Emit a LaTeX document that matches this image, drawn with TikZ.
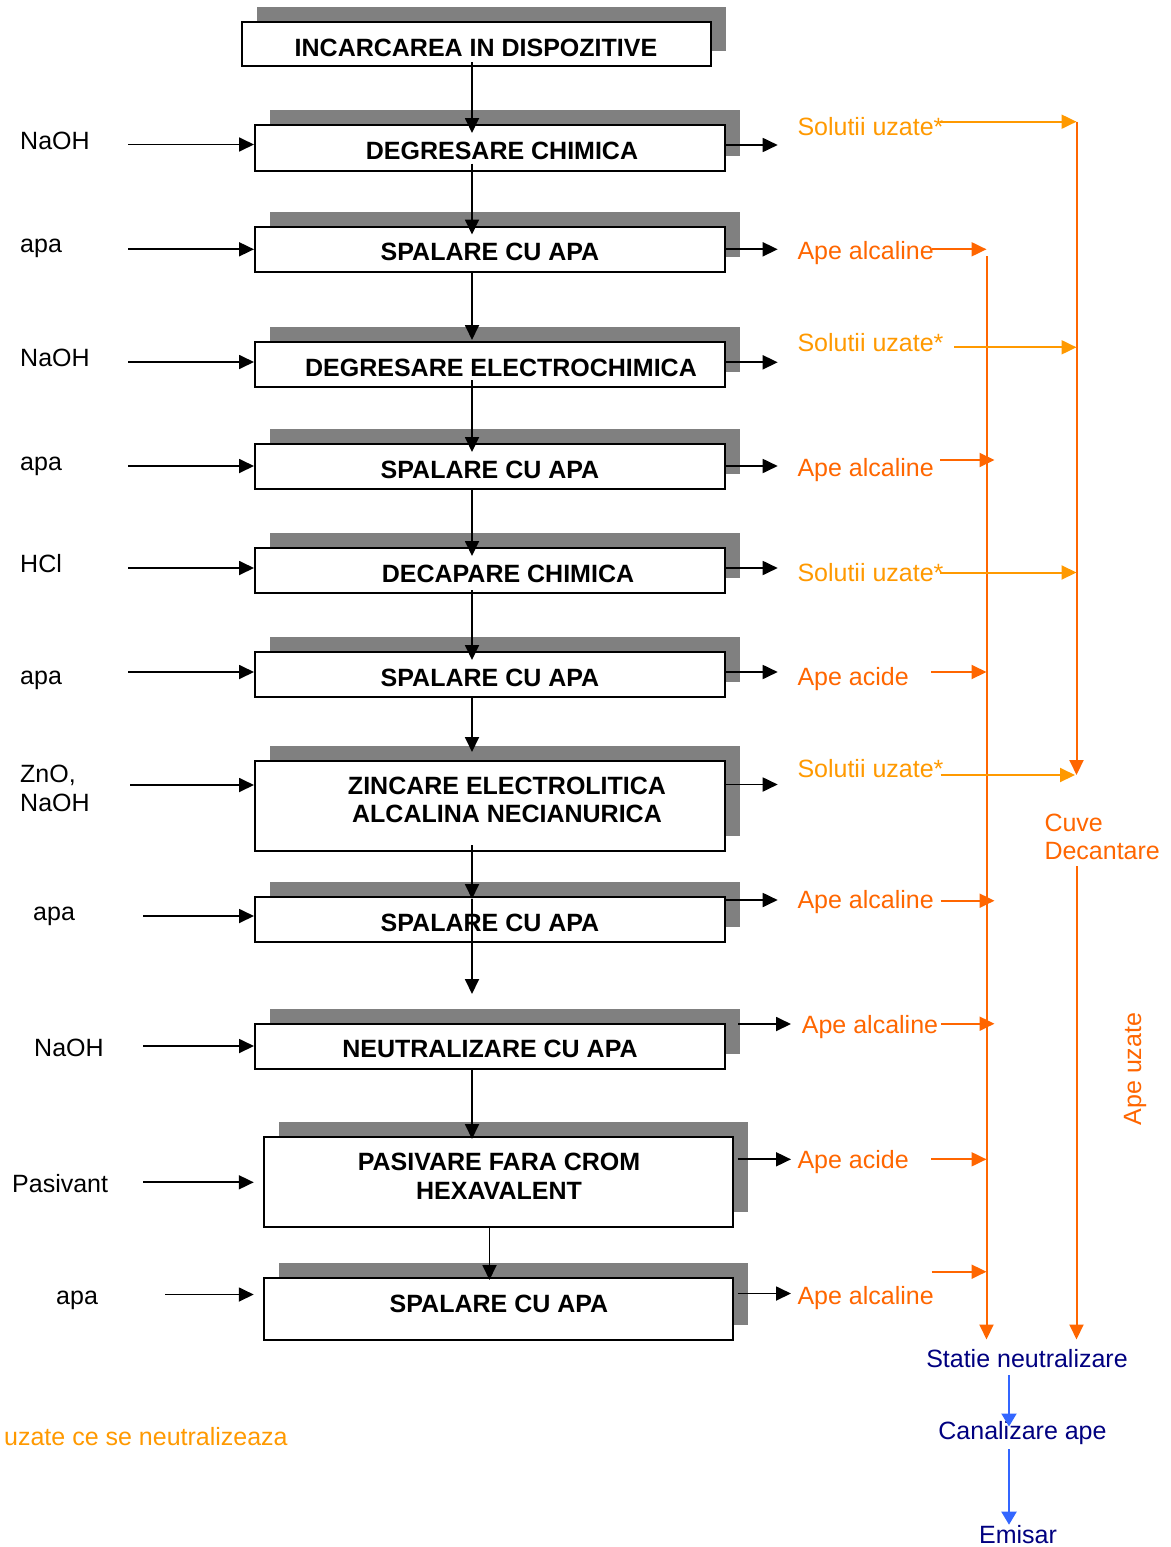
\documentclass[tikz,border=0pt]{standalone}
\usepackage{fontspec}
\setmainfont{Liberation Sans}
\usetikzlibrary{arrows.meta,shadows}
\definecolor{shadowgray}{HTML}{808080}
\definecolor{lorange}{HTML}{FF9900}
\definecolor{dorange}{HTML}{FF6600}
\definecolor{navytxt}{HTML}{000080}
\definecolor{bluearr}{HTML}{3366FF}
\newcommand{\fsz}{\fontsize{25}{28.75}\selectfont}
\begin{document}
\begin{tikzpicture}[x=1pt,y=-1pt,
  pbox/.style={draw=black, line width=2pt, fill=white, inner sep=0pt, minimum width=469.5pt,
     drop shadow={shadow xshift=15pt, shadow yshift=15pt, fill=shadowgray, opacity=1}},
  btxt/.style={inner sep=0pt, font=\fsz\bfseries},
  lbl/.style={inner sep=0pt, font=\fsz},
  arr/.style={line width=1.8pt, -{Triangle[length=15pt,width=14pt]}},
  oarr/.style={line width=2pt, -{Triangle[length=15pt,width=14pt]}},
  sarr/.style={oarr, draw=lorange},
  aarr/.style={oarr, draw=dorange},
  barr/.style={line width=2pt, draw=bluearr, -{Triangle[length=13pt,width=15pt]}},
]
\useasboundingbox (0,0) rectangle (1170,1547);
\fill[white] (0,0) rectangle (1170,1547);

% ---------- process boxes ----------
\node[pbox, minimum height=44pt]   (b1)  at (476.25,44)    {};
\node[pbox, minimum height=45.5pt] (b2)  at (489.75,147.75) {};
\node[pbox, minimum height=45pt]   (b3)  at (489.75,249)   {};
\node[pbox, minimum height=45pt]   (b4)  at (489.75,364.5) {};
\node[pbox, minimum height=45pt]   (b5)  at (489.75,466.5) {};
\node[pbox, minimum height=45pt]   (b6)  at (489.75,570.5) {};
\node[pbox, minimum height=45pt]   (b7)  at (489.75,674.5) {};
\node[pbox, minimum height=90pt]   (b8)  at (489.75,806)   {};
\node[pbox, minimum height=45pt]   (b9)  at (489.75,919.5) {};
\node[pbox, minimum height=45.5pt] (b10) at (489.75,1046.25) {};
\node[pbox, minimum height=90pt]   (b11) at (498.5,1182)   {};
\node[pbox, minimum height=61.5pt] (b12) at (498.5,1308.75) {};

\node[btxt, anchor=base] (t1)  at (476,56.5)  {INCARCAREA IN DISPOZITIVE};
\node[btxt, anchor=base] (t2)  at (502,159)   {DEGRESARE CHIMICA};
\node[btxt, anchor=base] (t3)  at (490,260.5) {SPALARE CU APA};
\node[btxt, anchor=base] (t4)  at (501,376)   {DEGRESARE ELECTROCHIMICA};
\node[btxt, anchor=base] (t5)  at (490,478)   {SPALARE CU APA};
\node[btxt, anchor=base] (t6)  at (508,582)   {DECAPARE CHIMICA};
\node[btxt, anchor=base] (t7)  at (490,686)   {SPALARE CU APA};
\node[btxt, anchor=north, align=center] (t8) at (507,776.5) {ZINCARE ELECTROLITICA\\ALCALINA NECIANURICA};
\node[btxt, anchor=base] (t9)  at (490,931)   {SPALARE CU APA};
\node[btxt, anchor=base] (t10) at (490,1057.5) {NEUTRALIZARE CU APA};
\node[btxt, anchor=north, align=center] (t11) at (499,1153.3) {PASIVARE FARA CROM\\HEXAVALENT};
\node[btxt, anchor=base] (t12) at (499,1312.5) {SPALARE CU APA};

% ---------- main flow ----------
\coordinate (mx) at (472,0);
\coordinate (mx2) at (489.5,0);
\coordinate (fe9) at (472,994);
\draw[arr] ([yshift=5pt]b1.south -| mx) -- ([yshift=-9pt]b2.north -| mx);
\draw[arr] ([yshift=8pt]b2.south -| mx) -- ([yshift=-9pt]b3.north -| mx);
\draw[arr] (b3.south -| mx) -- ([yshift=1pt]b4.north -| mx);
\draw[arr] ([yshift=8pt]b4.south -| mx) -- ([yshift=-9pt]b5.north -| mx);
\draw[arr] (b5.south -| mx) -- ([yshift=-9pt]b6.north -| mx);
\draw[arr] ([yshift=4pt]b6.south -| mx) -- ([yshift=-9pt]b7.north -| mx);
\draw[arr] (b7.south -| mx) -- ([yshift=8pt]b8.north -| mx);
\draw[arr] ([yshift=7pt]b8.south -| mx) -- ([yshift=-3pt]b9.north -| mx);
\draw[arr] ([yshift=-3pt]b9.north -| mx) -- (fe9);
\draw[arr] (b10.south -| mx) -- ([yshift=-3pt]b11.north -| mx);
\draw[arr] (b11.south -| mx2) -- ([yshift=-3pt]b12.north -| mx2);

% ---------- inputs ----------
\node[lbl, anchor=base west] (i2)  at (20,149.3)  {NaOH};
\node[lbl, anchor=base west] (i3)  at (20,252.7)  {apa};
\node[lbl, anchor=base west] (i4)  at (20,366.5)  {NaOH};
\node[lbl, anchor=base west] (i5)  at (20,470)    {apa};
\node[lbl, anchor=base west] (i6)  at (20,572.5)  {HCl};
\node[lbl, anchor=base west] (i7)  at (20,684.5)  {apa};
\node[lbl, anchor=north west, align=left] (i8) at (20,764.7) {ZnO,\\NaOH};
\node[lbl, anchor=base west] (i9)  at (33,920.7)  {apa};
\node[lbl, anchor=base west] (i10) at (34,1056)   {NaOH};
\node[lbl, anchor=base west] (i11) at (12,1192.7) {Pasivant};
\node[lbl, anchor=base west] (i12) at (56,1304)   {apa};

\coordinate (s2)  at (128,144.5);
\coordinate (s3)  at (128,249.3);
\coordinate (s4)  at (128,362);
\coordinate (s5)  at (128,466);
\coordinate (s6)  at (128,568);
\coordinate (s7)  at (128,672);
\coordinate (s8)  at (130,785);
\coordinate (s9)  at (143,916);
\coordinate (s10) at (143,1046);
\coordinate (s11) at (143,1182.3);
\coordinate (s12) at (165,1294.5);
\coordinate (w11) at ([xshift=-9pt]b11.west);
\coordinate (w12) at ([xshift=-9pt]b12.west);
\draw[arr] (s2) -- (s2 -| b2.west);
\draw[arr] (s3) -- (s3 -| b3.west);
\draw[arr] (s4) -- (s4 -| b4.west);
\draw[arr] (s5) -- (s5 -| b5.west);
\draw[arr] (s6) -- (s6 -| b6.west);
\draw[arr] (s7) -- (s7 -| b7.west);
\draw[arr] (s8) -- (s8 -| b8.west);
\draw[arr] (s9) -- (s9 -| b9.west);
\draw[arr] (s10) -- (s10 -| b10.west);
\draw[arr] (s11) -- (s11 -| w11);
\draw[arr] (s12) -- (s12 -| w12);

% ---------- outputs ----------
\coordinate (o2)  at (777.7,145);
\coordinate (o3)  at (777.7,249.3);
\coordinate (o4)  at (777.7,362.3);
\coordinate (o5)  at (777.7,466);
\coordinate (o6)  at (777.7,568);
\coordinate (o7)  at (777.7,672);
\coordinate (o8)  at (777.7,784.5);
\coordinate (o9)  at (777.7,900);
\coordinate (o10) at (791,1024);
\coordinate (o11) at (791,1159.3);
\coordinate (o12) at (791,1293.5);
\coordinate (e10) at ([xshift=12.5pt]b10.east);
\coordinate (e11) at ([xshift=3.5pt]b11.east);
\coordinate (e12) at ([xshift=3.5pt]b12.east);
\draw[arr] (o2 -| b2.east) -- (o2);
\draw[arr] (o3 -| b3.east) -- (o3);
\draw[arr] (o4 -| b4.east) -- (o4);
\draw[arr] (o5 -| b5.east) -- (o5);
\draw[arr] (o6 -| b6.east) -- (o6);
\draw[arr] (o7 -| b7.east) -- (o7);
\draw[arr] (o8 -| b8.east) -- (o8);
\draw[arr] (o9 -| b9.east) -- (o9);
\draw[arr] (o10 -| e10) -- (o10);
\draw[arr] (o11 -| e11) -- (o11);
\draw[arr] (o12 -| e12) -- (o12);

% ---------- effluent labels ----------
\node[lbl, text=lorange, anchor=base west] (r2)  at (797.3,135)    {Solutii uzate*};
\node[lbl, text=dorange, anchor=base west] (r3)  at (797.3,259.5)  {Ape alcaline};
\node[lbl, text=lorange, anchor=base west] (r4)  at (797.3,351.7)  {Solutii uzate*};
\node[lbl, text=dorange, anchor=base west] (r5)  at (797.3,476.5)  {Ape alcaline};
\node[lbl, text=lorange, anchor=base west] (r6)  at (797.3,581)    {Solutii uzate*};
\node[lbl, text=dorange, anchor=base west] (r7)  at (797.3,685.5)  {Ape acide};
\node[lbl, text=lorange, anchor=base west] (r8)  at (797.3,777.3)  {Solutii uzate*};
\node[lbl, text=dorange, anchor=base west] (r9)  at (797.3,908.3)  {Ape alcaline};
\node[lbl, text=dorange, anchor=base west] (r10) at (801.7,1033.3) {Ape alcaline};
\node[lbl, text=dorange, anchor=base west] (r11) at (797.3,1168.3) {Ape acide};
\node[lbl, text=dorange, anchor=base west] (r12) at (797.3,1304)   {Ape alcaline};

\node[lbl, text=dorange, anchor=north west, align=left] (cd) at (1044.3,813.4) {Cuve\\Decantare};
\node[lbl, text=dorange, rotate=90, anchor=base] (au) at (1141,1069) {Ape uzate};
\node[lbl, text=lorange, anchor=base west] (note) at (4,1445) {uzate ce se neutralizeaza};

\node[lbl, text=navytxt, anchor=base] (sn) at (1027,1367.3) {Statie neutralizare};
\node[lbl, text=navytxt, anchor=base] (cn) at (1022.5,1439.3) {Canalizare ape};
\node[lbl, text=navytxt, anchor=base] (em) at (1018,1543) {Emisar};

% ---------- trunks ----------
\coordinate (LT) at (986.5,256);
\coordinate (RT) at (1076.5,121.7);
\coordinate (RM) at (1076.5,775);
\coordinate (bx) at (1009,0);
\coordinate (snL) at ([yshift=9.5pt]sn.north -| LT);
\coordinate (snR) at ([yshift=9.5pt]sn.north -| RT);
\coordinate (cdR) at ([yshift=-6pt]cd.south -| RT);
\draw[aarr] (LT) -- (snL);
\draw[aarr] (RT) -- (RM);
\draw[aarr] (cdR) -- (snR);

% solutii uzate -> right trunk
\coordinate (a2)  at (940,121.7);
\coordinate (a4)  at (954,347.3);
\coordinate (a6)  at (940,572.5);
\coordinate (a8)  at (940.7,775);
\draw[sarr] (a2) -- (a2 -| RT);
\draw[sarr] (a4) -- (a4 -| RT);
\draw[sarr] (a6) -- (a6 -| RT);
\draw[sarr] (a8) -- ([xshift=-1.5pt]RM);

% ape -> left trunk
\coordinate (LTo) at (994.5,0);
\coordinate (a3)  at (931.7,249.3);
\coordinate (a5)  at (940,460);
\coordinate (a7)  at (931,672);
\coordinate (a9)  at (940.7,900.7);
\coordinate (a10) at (940.7,1023.7);
\coordinate (a11) at (931,1159.3);
\coordinate (a12) at (931.7,1271.7);
\draw[aarr] (a3) -- (a3 -| LT);
\draw[aarr] (a5) -- (a5 -| LTo);
\draw[aarr] (a7) -- (a7 -| LT);
\draw[aarr] (a9) -- (a9 -| LTo);
\draw[aarr] (a10) -- (a10 -| LTo);
\draw[aarr] (a11) -- (a11 -| LT);
\draw[aarr] (a12) -- (a12 -| LT);

% ---------- final chain ----------
\coordinate (sn1) at ([yshift=-7.5pt]sn.south -| bx);
\coordinate (cn1) at ([yshift=-5.5pt]cn.north -| bx);
\coordinate (cn2) at ([yshift=-4.5pt]cn.south -| bx);
\coordinate (em1) at (em.north -| bx);
\draw[barr] (sn1) -- (cn1);
\draw[barr] (cn2) -- (em1);
\end{tikzpicture}
\end{document}
